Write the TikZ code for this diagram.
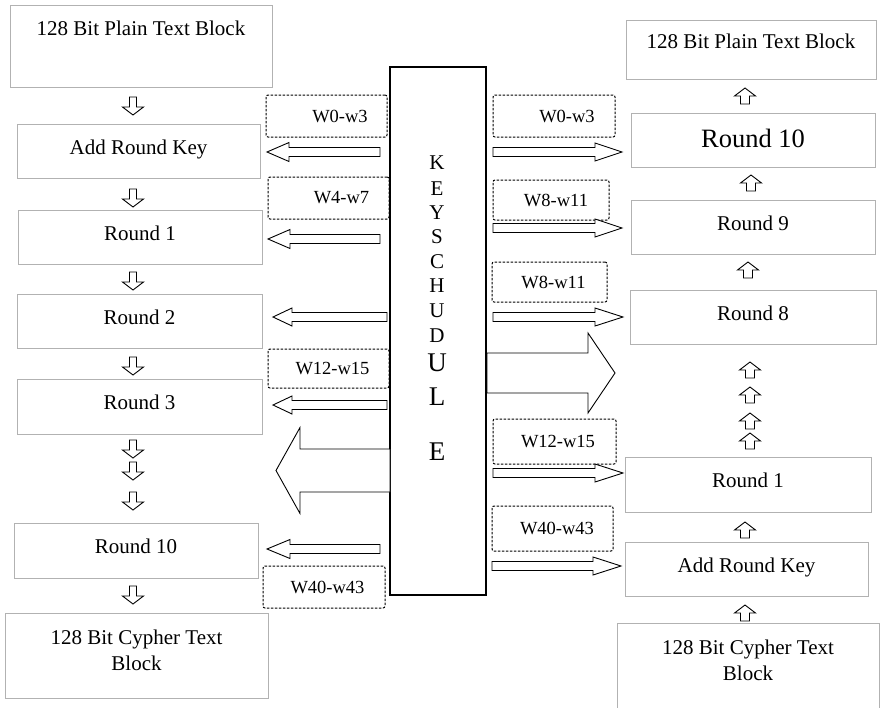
\documentclass[tikz,border=0pt]{standalone}
\usepackage{fontspec}
\setmainfont{Liberation Serif}
\usetikzlibrary{positioning}

% hollow block arrows: tail x, head base x, tip x, y, shaft half, head half
\newcommand{\hblock}[6]{\draw[blockarrow] (#1,#4-#5) -- (#2,#4-#5) -- (#2,#4-#6) -- (#3,#4) -- (#2,#4+#6) -- (#2,#4+#5) -- (#1,#4+#5) -- cycle;}
% small down / up arrows: x, top
\newcommand{\dblock}[2]{\draw[blockarrow] (#1-3.5,#2) -- (#1-3.5,#2+10) -- (#1-10.5,#2+10) -- (#1,#2+18) -- (#1+10.5,#2+10) -- (#1+3.5,#2+10) -- (#1+3.5,#2) -- cycle;}
\newcommand{\ublock}[2]{\draw[blockarrow] (#1,#2) -- (#1+10.5,#2+8) -- (#1+4.5,#2+8) -- (#1+4.5,#2+16) -- (#1-4.5,#2+16) -- (#1-4.5,#2+8) -- (#1-10.5,#2+8) -- cycle;}

\begin{document}
\begin{tikzpicture}[x=1pt, y=-1pt, font=\fontsize{21}{26}\selectfont,
  stage/.style={draw=gray!60, line width=1pt, inner sep=0pt, minimum width=244, minimum height=54, text height=15pt, text depth=9pt},
  keybox/.style={draw=black, dash pattern=on 2.5pt off 1.5pt, line width=1pt, rounded corners=2pt, inner sep=0pt, font=\fontsize{18.5}{22}\selectfont},
  blockarrow/.style={draw=black, line width=0.9pt, fill=white, line join=miter}]
\useasboundingbox (0,0) rectangle (880,707);
\fill[white] (0,0) rectangle (880,707);

% encryption side
\node (lpt) [stage, minimum width=262, text height=30pt, text depth=52pt] at (141,46) {128 Bit Plain Text Block};
\node (lark) [stage, minimum width=243] at (138.5,151) {Add Round Key};
\node (lr1) [stage] at (140,237) {Round 1};
\node (lr2) [stage, minimum width=245] at (139.5,321) {Round 2};
\node (lr3) [stage, minimum width=245, minimum height=55] at (139.5,406.5) {Round 3};
\node (lr10) [stage, minimum height=55] at (136,550.5) {Round 10};
\node (lct) [stage, minimum width=263, align=center, text height=57pt, text depth=28pt] at (136.5,655.5) {128 Bit Cypher Text\\Block};
\foreach \y in {97,189,272,357,440,462,492,586} {\dblock{133}{\y}}

% decryption side
\node (rpt) [stage, minimum width=250, text height=28pt, text depth=31pt] at (751,49.5) {128 Bit Plain Text Block};
\node (rr10) [stage, font=\fontsize{26.5}{30}\selectfont, text height=20pt, text depth=6pt] at (753,140) {Round 10};
\node (rr9) [stage] at (753,227) {Round 9};
\node (rr8) [stage, minimum width=246] at (753,317) {Round 8};
\node (rr1) [stage, minimum width=246, minimum height=55] at (748,484.5) {Round 1};
\node (rark) [stage, minimum width=243] at (746.5,569) {Add Round Key};
\node (rct) [stage, minimum width=262, align=center, text height=57pt, text depth=32pt] at (748,667.5) {128 Bit Cypher Text\\Block};
\foreach \x/\y in {745/88,751/175,748/262,750/362,750/387,750/413,750/433,745/522,745/605} {\ublock{\x}{\y}}

% key schedule
\node (ks) [draw, line width=1.2pt, minimum width=96, minimum height=528, inner sep=0pt] at (438,331) {};
\foreach \ltr/\y/\sz [count=\i] in {K/163/21,E/189/21,Y/213/21,S/237/21,C/262/21,H/286/21,U/311/21,D/336/21,U/363/27,L/397/27,E/452/27}
  \node (ks\i) at (437,\y) {\fontsize{\sz}{\sz}\selectfont\ltr};

\foreach \nm/\x/\y/\bw/\bh/\sh/\lbl in {kl1/326.5/116/121/42/27/W0-w3, kl2/328.5/198/121/42/26/W4-w7, kl3/328.5/368.5/121/39/8/W12-w15, kl4/324/587/122/42/7/W40-w43, kr1/554/116/122/42/26/W0-w3, kr2/551/200/116/40/10/W8-w11, kr3/549.5/282/115/40/8/W8-w11, kr4/554.5/441.5/123/45/7/W12-w15, kr5/552.5/528.5/121/45/9/W40-w43}
  \node (\nm) [keybox, minimum width=\bw, minimum height=\bh] at (\x,\y) {\hspace*{\sh pt}\lbl};

\hblock{380}{289}{267}{152}{4.5}{9.5}
\hblock{380}{290}{268}{239}{4.5}{9.5}
\hblock{387}{292}{273}{317}{4.5}{9}
\hblock{387}{292}{273}{405}{4.5}{9}
\hblock{390}{300}{276}{470.5}{21.5}{43}
\hblock{380}{290}{267}{549}{4.5}{9.5}
\hblock{493}{595}{622}{152}{4.5}{9}
\hblock{493}{595}{622}{228}{4.5}{9}
\hblock{493}{595}{623}{317}{4.5}{9}
\hblock{487}{588}{615}{373}{20}{40}
\hblock{493}{595}{623}{473}{4.5}{9}
\hblock{492}{593}{621}{566}{4.5}{9}
\end{tikzpicture}
\end{document}
